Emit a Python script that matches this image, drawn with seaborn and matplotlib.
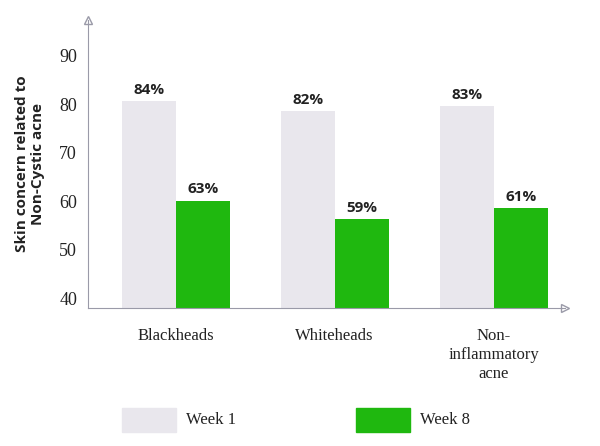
import matplotlib
matplotlib.use("Agg")
import matplotlib.pyplot as plt
import seaborn as sns
import pandas as pd
from matplotlib.patches import Rectangle

categories = ["Blackheads", "Whiteheads", "Non-\ninflammatory\nacne"]
week1 = [80.7, 78.6, 79.7]
week8 = [60.2, 56.3, 58.6]
week1_labels = ["84%", "82%", "83%"]
week8_labels = ["63%", "59%", "61%"]
series = ["Week 1", "Week 8"]
yticks = [40, 50, 60, 70, 80, 90]

colors = {"Week 1": "#e9e7ed", "Week 8": "#1fb80f"}

df = pd.DataFrame({
    "cat": categories * 2,
    "val": week1 + week8,
    "series": [series[0]] * 3 + [series[1]] * 3,
})

fig = plt.figure(figsize=(6, 4.46), dpi=100)
ax = fig.add_axes([0.147, 0.309, 0.795, 0.646])
sns.barplot(data=df, x="cat", y="val", hue="series", palette=colors,
            width=0.68, gap=0, ax=ax, legend=False, saturation=1)
ax.set_ylim(38, 97.4)
ax.set_xlim(-0.55, 2.45)
ax.set_yticks(yticks)
ax.tick_params(axis="y", length=0, labelsize=13, colors="#222222", pad=8)
ax.tick_params(axis="x", length=0, pad=14)
for lab in ax.get_yticklabels():
    lab.set_fontfamily("Liberation Serif")
ax.set_xticks(range(3))
ax.set_xticklabels(categories, fontfamily="Liberation Serif", fontsize=12,
                   color="#222222", va="top", linespacing=1.25)
ax.set_xlabel("")
ax.set_ylabel("Skin concern related to\nNon-Cystic acne", fontsize=11,
              fontweight="bold", fontfamily="Open Sans", color="#222222", labelpad=10)
for s in ["top", "right"]:
    ax.spines[s].set_visible(False)
for s in ["left", "bottom"]:
    ax.spines[s].set_color("#9a9aa8")
    ax.spines[s].set_linewidth(0.8)
ax.plot(1, 0, ">", transform=ax.transAxes, clip_on=False, ms=6,
        mfc="none", mec="#9a9aa8")
ax.plot(0, 1, "^", transform=ax.transAxes, clip_on=False, ms=6,
        mfc="none", mec="#9a9aa8")

for cont, labs in zip(ax.containers, [week1_labels, week8_labels]):
    ax.bar_label(cont, labels=labs, padding=3, fontsize=11, fontweight="bold",
                 fontfamily="Open Sans", color="#222222")

for x0, name in [(122, series[0]), (356, series[1])]:
    fig.patches.append(Rectangle((x0 / 600, 1 - 432 / 446), 54 / 600, 24 / 446,
                                 transform=fig.transFigure, color=colors[name]))
    fig.text((x0 + 64) / 600, 1 - 420 / 446, name, fontsize=12,
             fontfamily="Liberation Serif", color="#222222", va="center")

fig.savefig("out.png", dpi=100, facecolor="white")
